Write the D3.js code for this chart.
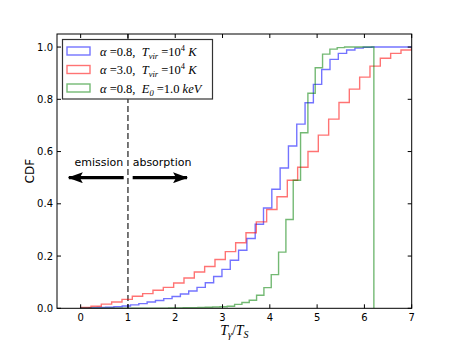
<!DOCTYPE html>
<html>
<head>
<meta charset="utf-8">
<script src="https://cdn.jsdelivr.net/npm/d3@7"></script>
<style>
  body { margin: 0; background: #fff; }
  text { fill: #000; }
</style>
</head>
<body>
<div id="chart"></div>
<script>
// tick labels
var xTicks = [0, 1, 2, 3, 4, 5, 6, 7];
var yTicks = [0, 0.2, 0.4, 0.6, 0.8, 1.0];

// cumulative histograms, 40 bins each over [lo, hi]
var blueRange = [0, 7.03];
var blueCdf = [0.001, 0.002, 0.003, 0.004, 0.006, 0.009, 0.013, 0.018, 0.024, 0.03,
    0.037, 0.045, 0.055, 0.066, 0.08, 0.098, 0.122, 0.149, 0.184, 0.222,
    0.267, 0.322, 0.384, 0.456, 0.537, 0.621, 0.705, 0.787, 0.857, 0.914,
    0.953, 0.976, 0.989, 0.996, 0.999, 1, 1, 1, 1, 1];

var redRange = [0, 8.74];
var redCdf = [0.003, 0.008, 0.016, 0.024, 0.034, 0.046, 0.056, 0.069, 0.08, 0.097,
    0.116, 0.139, 0.16, 0.187, 0.217, 0.251, 0.289, 0.331, 0.378, 0.427,
    0.49, 0.54, 0.60, 0.663, 0.724, 0.788, 0.839, 0.885, 0.927, 0.957,
    0.976, 0.989, 0.993, 0.996, 0.998, 0.999, 1, 1, 1, 1];

var greenRange = [0, 6.2];
var greenCdf = [0, 0, 0, 0, 0, 0, 0, 0, 0, 0,
    0, 0, 0.001, 0.001, 0.002, 0.002, 0.003, 0.004, 0.005, 0.006,
    0.008, 0.015, 0.022, 0.031, 0.05, 0.079, 0.129, 0.215, 0.34, 0.49,
    0.672, 0.823, 0.921, 0.973, 0.992, 0.998, 1, 1, 1, 1];

var divider = 1.0;   // T_gamma / T_S = 1

var W = 457, H = 343;
var margin = {left: 57, right: 45.3, top: 34, bottom: 34.7};

var x = d3.scaleLinear().domain([-0.5, 7]).range([margin.left, W - margin.right]);
var y = d3.scaleLinear().domain([0, 1.05]).range([H - margin.bottom, margin.top]);

var svg = d3.select("#chart").append("svg")
    .attr("width", W).attr("height", H)
    .style("font-family", "'DejaVu Sans', sans-serif");

svg.append("rect").attr("width", W).attr("height", H).attr("fill", "#fff");

svg.append("defs").append("clipPath").attr("id", "plotclip")
    .append("rect")
    .attr("x", x(-0.5)).attr("y", y(1.05))
    .attr("width", x(7) - x(-0.5)).attr("height", y(0) - y(1.05));

var plot = svg.append("g").attr("clip-path", "url(#plotclip)");

function stepPoints(range, cdf) {
    var n = cdf.length;
    var edges = d3.range(n + 1).map(function (i) { return range[0] + i * (range[1] - range[0]) / n; });
    var pts = [[edges[0], 0]];
    cdf.forEach(function (v, i) {
        pts.push([edges[i], v]);
        pts.push([edges[i + 1], v]);
    });
    pts.push([edges[n], 0]);
    return pts;
}

var line = d3.line().x(function (d) { return x(d[0]); }).y(function (d) { return y(d[1]); });

var series = [
    {range: blueRange, cdf: blueCdf, color: "blue"},
    {range: redRange, cdf: redCdf, color: "red"},
    {range: greenRange, cdf: greenCdf, color: "green"}
];

// dashed divider
plot.append("line")
    .attr("x1", x(divider)).attr("x2", x(divider))
    .attr("y1", y(1.05)).attr("y2", y(0))
    .attr("stroke", "#555").attr("stroke-width", 1.6)
    .attr("stroke-dasharray", "6,3");

series.forEach(function (s) {
    plot.append("path")
        .attr("d", line(stepPoints(s.range, s.cdf)))
        .attr("fill", "none")
        .attr("stroke", s.color)
        .attr("stroke-opacity", 0.55)
        .attr("stroke-width", 1.4);
});

// arrows
var defs = svg.select("defs");
defs.append("marker").attr("id", "head")
    .attr("viewBox", "0 0 15 11").attr("refX", 14).attr("refY", 5.5)
    .attr("markerWidth", 15).attr("markerHeight", 11)
    .attr("markerUnits", "userSpaceOnUse").attr("orient", "auto")
    .append("path").attr("d", "M0,0 L15,5.5 L0,11 L3,5.5 Z").attr("fill", "#000");

[[0.91, -0.25], [1.1, 2.25]].forEach(function (a) {
    svg.append("line")
        .attr("x1", x(a[0])).attr("x2", x(a[1]))
        .attr("y1", y(0.5)).attr("y2", y(0.5))
        .attr("stroke", "#000").attr("stroke-width", 3.2)
        .attr("marker-end", "url(#head)");
});

svg.append("text").attr("x", x(0.9)).attr("y", y(0.545))
    .attr("text-anchor", "end").attr("font-size", 11).text("emission");
svg.append("text").attr("x", x(1.1)).attr("y", y(0.545))
    .attr("text-anchor", "start").attr("font-size", 11).text("absorption");

// frame
svg.append("rect")
    .attr("x", x(-0.5)).attr("y", y(1.05))
    .attr("width", x(7) - x(-0.5)).attr("height", y(0) - y(1.05))
    .attr("fill", "none").attr("stroke", "#000").attr("stroke-width", 1);

// ticks (inward, all four sides)
var tk = 4;
xTicks.forEach(function (t) {
    svg.append("line").attr("x1", x(t)).attr("x2", x(t))
        .attr("y1", y(0)).attr("y2", y(0) - tk).attr("stroke", "#000");
    svg.append("line").attr("x1", x(t)).attr("x2", x(t))
        .attr("y1", y(1.05)).attr("y2", y(1.05) + tk).attr("stroke", "#000");
    svg.append("text").attr("x", x(t)).attr("y", y(0) + 12.5)
        .attr("text-anchor", "middle").attr("font-size", 10).text(d3.format("d")(t));
});
yTicks.forEach(function (t) {
    svg.append("line").attr("x1", x(-0.5)).attr("x2", x(-0.5) + tk)
        .attr("y1", y(t)).attr("y2", y(t)).attr("stroke", "#000");
    svg.append("line").attr("x1", x(7)).attr("x2", x(7) - tk)
        .attr("y1", y(t)).attr("y2", y(t)).attr("stroke", "#000");
    svg.append("text").attr("x", x(-0.5) - 4).attr("y", y(t) + 3.5)
        .attr("text-anchor", "end").attr("font-size", 10).text(d3.format(".1f")(t));
});

// axis labels
svg.append("text")
    .attr("transform", "translate(34," + ((y(0) + y(1.05)) / 2) + ") rotate(-90)")
    .attr("text-anchor", "middle").attr("font-size", 12).text("CDF");

var xl = svg.append("text")
    .attr("x", (x(-0.5) + x(7)) / 2).attr("y", 335)
    .attr("text-anchor", "middle")
    .style("font-family", "'Liberation Serif', 'DejaVu Serif', serif")
    .attr("font-size", 14);
xl.append("tspan").attr("font-style", "italic").text("T");
xl.append("tspan").attr("font-style", "italic").attr("font-size", 10).attr("dy", 3).text("γ");
xl.append("tspan").attr("dy", -3).text("/");
xl.append("tspan").attr("font-style", "italic").text("T");
xl.append("tspan").attr("font-style", "italic").attr("font-size", 10).attr("dy", 3).text("S");

// legend
var lg = svg.append("g");
lg.append("rect").attr("x", 62.5).attr("y", 39.5).attr("width", 150).attr("height", 59.5)
    .attr("fill", "#fff").attr("stroke", "#333").attr("stroke-width", 1.2);

var legendLabels = [
    [["α", "i"], ["\u00a0=0.8,\u00a0\u00a0", "r"], ["T", "i"], ["vir", "sub"], ["\u00a0=10", "r"], ["4", "sup"], ["\u00a0K", "i"]],
    [["α", "i"], ["\u00a0=3.0,\u00a0\u00a0", "r"], ["T", "i"], ["vir", "sub"], ["\u00a0=10", "r"], ["4", "sup"], ["\u00a0K", "i"]],
    [["α", "i"], ["\u00a0=0.8,\u00a0\u00a0", "r"], ["E", "i"], ["0", "sub"], ["\u00a0=1.0\u00a0", "r"], ["keV", "i"]]
];
var rowY = [51, 69.5, 88];

series.forEach(function (s, i) {
    lg.append("rect").attr("x", 67).attr("y", rowY[i] - 4).attr("width", 23).attr("height", 8)
        .attr("fill", "none").attr("stroke", s.color).attr("stroke-opacity", 0.55).attr("stroke-width", 1.4);
    var t = lg.append("text").attr("x", 100).attr("y", rowY[i] + 4.5)
        .style("font-family", "'Liberation Serif', 'DejaVu Serif', serif")
        .attr("font-size", 12.5);
    var shift = 0;
    legendLabels[i].forEach(function (p) {
        var sp = t.append("tspan").text(p[0]);
        var dy = 0;
        if (p[1] === "i") sp.attr("font-style", "italic");
        if (p[1] === "sub") { sp.attr("font-style", "italic").attr("font-size", 8.5); dy = 3; }
        if (p[1] === "sup") { sp.attr("font-size", 8.5); dy = -5; }
        sp.attr("dy", dy - shift);
        shift = dy;
    });
});
</script>
</body>
</html>
